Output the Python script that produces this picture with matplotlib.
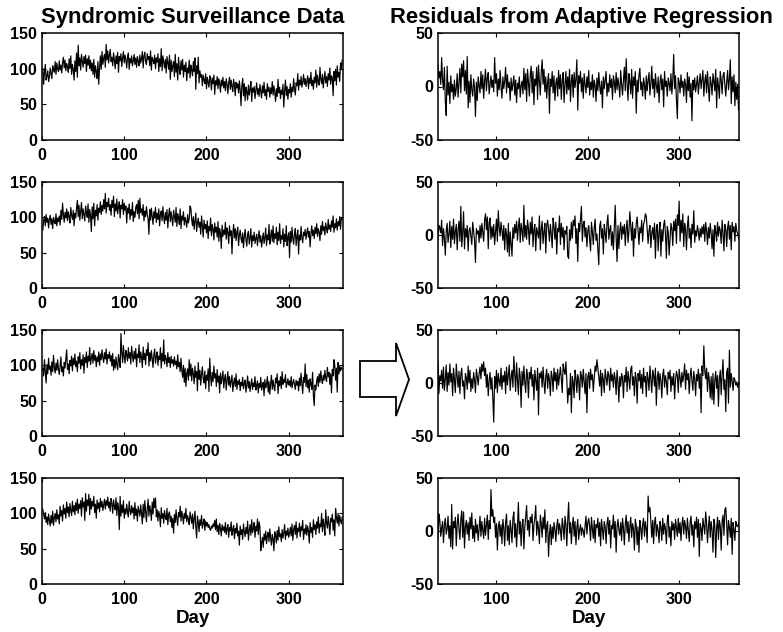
import numpy as np
import matplotlib
matplotlib.use("Agg")
import matplotlib.pyplot as plt
from matplotlib.patches import Polygon

plt.rcParams['font.family'] = ['Liberation Sans', 'DejaVu Sans']
plt.rcParams['font.weight'] = 'bold'
plt.rcParams['axes.unicode_minus'] = False

# ---------------- data ----------------
left_start_day = 1
resid_start_day = 36

data1 = [
    100, 78, 95, 106, 84, 90, 97, 82, 88, 101, 93, 86, 104, 99, 95, 110, 92, 108, 100, 96,
    111, 98, 105, 94, 109, 116, 101, 112, 97, 107, 103, 95, 114, 100, 118, 92, 106, 99, 84, 111,
    96, 122, 88, 133, 104, 115, 98, 120, 110, 102, 117, 107, 119, 96, 114, 105, 118, 100, 112, 97,
    108, 92, 113, 88, 104, 96, 86, 110, 78, 101, 118, 99, 124, 106, 115, 120, 102, 134, 112, 125,
    108, 119, 127, 110, 116, 104, 122, 113, 100, 118, 107, 123, 95, 117, 111, 121, 103, 115, 124, 108,
    119, 112, 101, 116, 122, 99, 114, 108, 118, 104, 111, 120, 106, 115, 102, 117, 110, 104, 119, 108,
    114, 124, 101, 118, 123, 110, 106, 121, 113, 117, 104, 125, 98, 116, 112, 107, 119, 100, 115, 109,
    121, 96, 114, 103, 128, 97, 118, 110, 101, 113, 94, 117, 108, 99, 119, 85, 112, 96, 104, 110,
    89, 120, 95, 107, 84, 116, 100, 92, 111, 98, 113, 88, 105, 96, 109, 83, 101, 94, 112, 87,
    105, 98, 90, 110, 96, 115, 71, 104, 93, 116, 80, 97, 88, 92, 76, 91, 84, 79, 93, 72,
    88, 81, 74, 90, 85, 70, 87, 79, 91, 64, 83, 77, 89, 72, 86, 80, 67, 84, 76, 88,
    73, 82, 69, 86, 78, 65, 80, 88, 71, 84, 75, 68, 85, 77, 62, 81, 73, 79, 66, 83,
    70, 48, 76, 86, 62, 79, 55, 74, 68, 56, 77, 63, 71, 82, 54, 73, 67, 75, 58, 70,
    80, 64, 72, 61, 78, 69, 59, 76, 66, 81, 62, 71, 57, 79, 68, 74, 60, 73, 65, 82,
    63, 76, 67, 54, 72, 61, 85, 66, 74, 58, 70, 64, 78, 46, 69, 84, 62, 75, 57, 71,
    66, 79, 60, 74, 68, 86, 72, 63, 80, 76, 93, 70, 84, 77, 89, 74, 81, 92, 78, 86,
    75, 83, 90, 72, 87, 79, 95, 76, 84, 71, 88, 80, 98, 74, 91, 82, 77, 102, 85, 79,
    92, 73, 86, 96, 80, 89, 75, 93, 84, 101, 78, 90, 87, 62, 96, 83, 99, 77, 104, 88,
    95, 82, 108, 100, 112,
]

data2 = [
    82, 96, 101, 88, 104, 93, 99, 85, 97, 103, 90, 98, 84, 100, 95, 91, 105, 88, 99, 94,
    102, 89, 110, 97, 120, 104, 93, 107, 99, 112, 95, 108, 101, 92, 114, 103, 97, 110, 88, 106,
    99, 113, 124, 101, 117, 96, 109, 121, 98, 112, 104, 95, 116, 107, 100, 119, 93, 111, 103, 80,
    115, 98, 120, 88, 110, 102, 118, 96, 113, 107, 122, 104, 117, 109, 125, 112, 134, 106, 121, 115,
    127, 110, 118, 103, 124, 114, 130, 101, 119, 109, 126, 105, 115, 122, 99, 117, 112, 125, 104, 120,
    110, 116, 92, 113, 106, 119, 97, 111, 103, 121, 94, 108, 100, 114, 118, 105, 124, 98, 127, 107,
    112, 103, 118, 95, 109, 101, 115, 104, 98, 76, 111, 96, 113, 102, 90, 108, 99, 114, 93, 106,
    97, 112, 88, 104, 109, 95, 115, 100, 91, 107, 96, 111, 85, 103, 113, 94, 108, 98, 88, 110,
    101, 93, 114, 87, 105, 99, 90, 112, 84, 102, 96, 108, 89, 100, 94, 86, 104, 92, 98, 116,
    113, 97, 88, 101, 83, 95, 106, 80, 92, 99, 86, 93, 76, 102, 88, 72, 96, 84, 90, 78,
    95, 70, 87, 81, 99, 74, 90, 83, 68, 92, 79, 86, 72, 94, 66, 84, 78, 56, 89, 73,
    82, 76, 93, 69, 85, 79, 63, 88, 74, 81, 48, 77, 90, 71, 84, 67, 79, 86, 60, 75,
    82, 70, 64, 78, 57, 73, 83, 68, 59, 76, 80, 62, 71, 84, 58, 74, 67, 79, 63, 70,
    76, 60, 72, 81, 65, 74, 58, 69, 78, 63, 71, 85, 60, 75, 68, 90, 62, 73, 82, 66,
    88, 64, 77, 70, 86, 61, 79, 67, 91, 63, 74, 69, 84, 58, 76, 66, 88, 60, 72, 78,
    43, 80, 65, 86, 70, 62, 77, 84, 60, 73, 82, 48, 75, 68, 87, 71, 64, 79, 74, 83,
    69, 78, 85, 72, 80, 58, 76, 88, 74, 82, 70, 86, 77, 91, 73, 84, 79, 67, 88, 76,
    94, 81, 87, 75, 92, 84, 78, 97, 83, 89, 80, 95, 86, 102, 79, 91, 85, 98, 82, 94,
    88, 101, 83, 99, 97,
]

data3 = [
    96, 85, 108, 92, 75, 101, 88, 110, 94, 99, 86, 105, 91, 114, 97, 89, 103, 93, 108, 95,
    87, 100, 112, 91, 98, 85, 104, 96, 109, 122, 94, 102, 88, 107, 99, 113, 92, 110, 101, 116,
    98, 106, 91, 112, 103, 118, 95, 108, 100, 115, 89, 111, 104, 119, 97, 113, 106, 125, 101, 110,
    117, 103, 121, 107, 114, 98, 112, 105, 119, 100, 116, 108, 122, 111, 104, 118, 109, 123, 102, 115,
    110, 119, 106, 114, 99, 117, 93, 108, 96, 112, 101, 94, 115, 107, 97, 145, 118, 104, 128, 112,
    103, 121, 115, 106, 125, 110, 118, 102, 127, 113, 105, 120, 109, 124, 98, 116, 111, 129, 104, 119,
    112, 97, 126, 108, 117, 101, 122, 114, 132, 99, 118, 106, 121, 110, 97, 115, 123, 103, 112, 119,
    100, 113, 108, 125, 96, 117, 106, 136, 102, 114, 109, 98, 118, 104, 111, 97, 113, 103, 108, 99,
    112, 101, 106, 95, 115, 98, 104, 91, 110, 93, 83, 100, 76, 96, 70, 89, 95, 79, 108, 85,
    102, 78, 96, 88, 74, 99, 83, 91, 64, 104, 80, 93, 72, 87, 98, 81, 75, 92, 67, 86,
    79, 95, 63, 110, 84, 71, 90, 77, 99, 82, 88, 70, 94, 76, 85, 61, 89, 74, 83, 92,
    68, 81, 87, 65, 79, 91, 72, 84, 69, 77, 86, 63, 75, 82, 70, 88, 66, 78, 73, 80,
    64, 76, 71, 83, 67, 74, 79, 62, 72, 85, 68, 77, 63, 73, 81, 66, 75, 70, 84, 65,
    72, 78, 61, 74, 69, 83, 65, 71, 76, 57, 80, 68, 73, 84, 62, 77, 59, 74, 86, 66,
    79, 70, 64, 82, 75, 88, 60, 78, 71, 84, 67, 91, 73, 80, 76, 87, 69, 74, 81, 72,
    78, 70, 84, 68, 75, 80, 73, 66, 79, 72, 77, 64, 82, 71, 89, 74, 60, 83, 76, 102,
    70, 87, 68, 79, 62, 81, 74, 66, 90, 57, 43, 72, 65, 78, 84, 70, 88, 76, 92, 80,
    74, 86, 79, 93, 82, 77, 97, 84, 90, 73, 88, 61, 94, 85, 108, 100, 79, 96, 62, 104,
    88, 99, 92, 97, 95,
]

data4 = [
    106, 98, 92, 101, 87, 95, 84, 99, 90, 82, 97, 86, 103, 83, 94, 100, 88, 105, 92, 98,
    85, 110, 96, 104, 89, 112, 99, 107, 93, 116, 101, 109, 95, 114, 104, 97, 117, 102, 111, 98,
    115, 104, 120, 100, 113, 107, 118, 96, 122, 109, 116, 90, 128, 103, 119, 111, 127, 98, 121, 106,
    117, 110, 124, 101, 113, 93, 119, 107, 115, 102, 121, 109, 117, 104, 112, 120, 106, 118, 111, 123,
    108, 116, 103, 121, 114, 100, 119, 110, 105, 122, 97, 115, 108, 77, 124, 96, 112, 101, 118, 93,
    106, 99, 113, 102, 95, 117, 104, 98, 111, 101, 108, 92, 115, 97, 106, 89, 110, 103, 96, 112,
    100, 85, 113, 94, 118, 102, 88, 107, 120, 96, 111, 104, 90, 116, 99, 121, 108, 122, 95, 105,
    89, 103, 97, 81, 108, 93, 100, 86, 104, 95, 91, 107, 84, 99, 102, 88, 96, 80, 93, 72,
    98, 87, 105, 92, 83, 101, 95, 110, 89, 103, 96, 85, 100, 93, 107, 88, 97, 91, 84, 102,
    94, 86, 99, 78, 92, 103, 81, 65, 96, 88, 74, 91, 83, 97, 79, 86, 92, 76, 89, 82,
    87, 80, 84, 78, 76, 82, 79, 85, 81, 90, 77, 92, 74, 83, 70, 86, 79, 68, 84, 76,
    81, 73, 87, 70, 78, 84, 66, 80, 75, 88, 69, 77, 83, 64, 79, 72, 86, 68, 75, 55,
    82, 70, 77, 63, 85, 74, 67, 80, 71, 89, 62, 76, 84, 69, 91, 73, 78, 87, 66, 82,
    75, 92, 70, 88, 80, 47, 58, 66, 52, 71, 62, 75, 57, 68, 73, 60, 78, 65, 55, 70,
    64, 47, 74, 69, 58, 76, 62, 81, 67, 71, 60, 77, 65, 72, 84, 63, 75, 69, 79, 66,
    72, 80, 68, 85, 62, 77, 83, 70, 88, 65, 79, 74, 86, 67, 81, 76, 90, 63, 78, 71,
    84, 69, 82, 75, 58, 87, 73, 80, 66, 91, 77, 84, 70, 88, 79, 95, 72, 85, 81, 100,
    74, 92, 83, 69, 105, 87, 79, 96, 84, 70, 93, 88, 99, 76, 91, 68, 107, 94, 86, 100,
    82, 97, 90, 85, 95,
]

resid1 = [
    20, 8, 14, 2, 27, 6, -3, 18, -14, -27, 19, -8, 4, -16, 10, -5, 2, -12, 6, -9,
    -2, 12, -10, 3, 17, -6, 21, 9, 24, -4, 15, -7, 28, -20, 5, -15, 11, -3, -9, 7,
    -1, -28, 4, -13, 9, 1, -6, 14, -2, 11, -11, 5, 16, -4, 8, 13, -7, 2, 10, -1,
    6, -5, 27, 3, 12, -9, 7, -3, 15, 0, -11, 9, -2, 5, 18, -6, 11, -1, 4, -13,
    8, -4, 2, 10, -8, 6, -15, 3, -2, 9, -10, 1, 5, -7, 17, -3, 12, -14, 16, 4,
    -9, 11, 19, -6, 14, -17, 7, 1, 18, -12, 20, 5, -8, 13, 25, 2, 16, -5, 9, -11,
    4, 12, -25, 7, 0, 14, -6, 10, -13, 3, 8, -9, 15, -2, 11, -12, 6, 13, -15, 2,
    14, -7, 9, -3, 16, -14, 5, 11, -10, 13, -1, 7, 25, -22, 10, 3, 14, -5, 8, -11,
    12, 2, -6, 9, -1, 15, -8, 4, -3, 11, -10, 6, 1, -14, 8, -4, 13, 0, -7, 5,
    -20, 9, -2, 6, 14, -9, 3, -5, 11, -1, 7, -12, 10, 4, -6, 13, -3, 8, 1, -10,
    15, 2, -8, 6, 18, -4, 26, 3, -13, 12, 5, -7, 16, -11, 9, 1, 14, -25, 6, -5,
    11, 17, -3, 4, -9, 8, 2, -12, 10, -4, 6, 13, -8, 3, 19, -2, 7, -10, 12, 1,
    -6, 9, -15, 4, 11, -3, 7, -19, 14, 0, 5, -9, 8, 3, -4, 12, -7, 6, 30, -2,
    10, -12, -30, 8, 4, -6, 11, -1, 5, -9, 7, 2, -15, 13, -4, 9, -10, 3, -32, 6,
    -3, 8, -5, 2, 10, -7, 4, 12, -2, 7, 15, -9, 5, 11, -6, 14, -1, -14, 9, 3,
    -8, 12, 5, -4, 16, -20, 8, 1, -11, 14, 6, -7, 10, 13, 2, -9, 4, 15, -3, 7,
    25, -16, 9, -5, 11, -18, 4, -12, 2, -22,
]

resid2 = [
    -5, 9, 7, 2, 14, -10, 6, -3, -19, 4, 11, -7, 1, 13, -12, 8, -4, 15, -8, 3,
    10, -14, 5, 13, -6, 27, -11, 2, 22, -13, 6, -2, 9, -15, 4, 7, -1, -9, 12, 3,
    -5, -26, 6, 1, 4, -7, 9, -3, 11, 2, -6, 14, 20, 5, 17, -13, 12, 16, -4, 8,
    -2, 10, -9, 3, 15, -6, 23, 7, -1, 12, 4, -5, 9, -14, 6, 1, -16, 11, -20, 3,
    -8, -20, 7, -3, 10, 2, 13, -5, 8, 16, -7, 11, 4, -6, 28, -2, 9, -4, 14, 6,
    -9, 12, 1, 17, -11, 5, 10, -15, 7, 2, -3, 18, -14, 6, 13, -8, 3, 11, -17, 9,
    14, 5, -6, 10, 1, -12, 16, 8, -4, 12, -18, 6, 3, 18, -9, 11, -2, 7, -14, 4,
    1, 8, -20, -22, 5, -5, 12, -3, 14, 9, 18, -8, 6, -25, 11, 3, 15, 27, -6, 10,
    13, -2, 7, -11, 4, 9, -4, -15, 12, 3, -9, 6, 15, -5, 1, -13, -28, 8, 13, -3,
    6, -18, 10, 2, -7, 11, 19, -4, 5, 9, -10, 3, -14, 7, 28, -2, -25, 9, -13, 4,
    12, -4, 8, 1, 10, -10, 6, 14, -7, 3, 22, 9, -5, 12, -20, 6, -3, 11, 17, 4,
    -9, 7, 2, 14, -6, 10, 13, 20, 18, 5, -8, 4, 9, -12, 2, 7, -4, 11, -22, 6,
    10, -15, 3, 12, -20, 5, -6, 9, 14, 1, -22, 8, 3, -19, -4, 11, 6, -10, 13, 4,
    15, -8, 19, 9, 32, -6, 14, 2, 20, -11, 11, 5, -14, 8, 18, -3, 6, -12, 10, 1,
    23, -7, 4, -1, 9, 3, -5, 6, -2, 8, 1, 10, -6, 12, 4, -9, 7, -3, 11, 2,
    -13, 5, -20, 9, 3, -6, 12, -1, 8, 4, -8, 14, 2, -15, 10, 6, -11, 7, 13, -4,
    9, -14, 12, 3, 8, -6, 11, 4, 1, -3,
]

resid3 = [
    20, -10, 7, 2, 12, -5, 15, -7, 4, 17, -8, 10, -2, 18, 1, 9, -12, 14, 3, -9,
    18, 6, -4, 11, -10, 8, 14, -3, 2, -15, 9, 5, -6, 16, 0, 12, -8, 4, -5, 10,
    3, -9, 13, 6, -2, 9, 15, 4, 18, 11, 20, 7, 14, -4, 8, -12, 2, 10, -6, 5,
    -14, -37, 6, -5, 12, -9, 9, 2, -3, 14, -6, 7, 1, 11, -10, 15, -2, 8, 17, -7,
    5, 12, -4, 25, 9, -8, 19, 3, -11, 14, 6, -23, 11, -2, 16, 1, -9, 13, 7, -14,
    10, 4, 15, -3, 8, -16, 12, 2, -7, 14, -30, 9, 5, 11, -4, 15, 1, -10, 7, 13,
    -5, 9, 3, -12, 11, 6, -8, 14, 2, 10, -6, 13, -2, 7, 15, 4, -9, 18, 12, 8,
    20, 3, -19, -5, -11, 9, -28, 6, 1, -14, 12, 5, -9, 8, 3, -16, 11, 7, -4, 13,
    2, -10, 9, -28, 6, 10, -5, 13, 3, 8, -8, 4, 16, 11, 22, 14, 6, -3, 12, -12,
    9, 3, -9, 13, 5, -2, 11, 7, -7, 14, 2, 8, -4, 10, 4, -11, 12, 1, -18, 6,
    -3, 9, 5, -14, 7, 1, 15, -8, 11, 3, -6, 13, 16, -2, 6, -12, 10, 4, -19, 9,
    2, 12, -5, 8, -10, 14, 1, 6, -13, 10, 4, -7, 16, 3, -9, 12, 7, -3, 14, -21,
    5, 11, -6, 9, 2, -14, 8, 13, -4, 7, 1, -11, 10, 4, 12, -8, 6, -2, 9, -15,
    3, 11, 7, -9, 13, 5, -4, 10, 1, 8, 18, -6, 12, 3, 9, -10, 6, 14, 2, -7,
    11, 4, -12, 8, 2, 13, -5, 9, -28, 16, 7, 35, 12, 4, 14, -8, 10, 3, -14, 6,
    -16, 9, -20, 2, 11, -5, 7, -22, 4, 12, -11, 8, 22, -6, 3, -27, 10, 14, -19, 31,
    -4, 9, 2, -7, 5, 3, -2, 1, -4, 0,
]

resid4 = [
    -8, 16, 10, -5, 3, 9, -11, 6, 12, -3, 2, 14, -7, 5, -15, 25, -17, 9, 3, 13,
    -14, 7, 16, 1, -8, 11, 19, -6, 18, -16, 4, 10, -3, 8, -9, 13, 2, 17, -7, 5,
    -10, 11, -2, 6, -9, 3, 14, -5, 9, 1, -7, 12, -4, 6, 15, -8, 10, 2, 39, 14,
    20, 8, 13, -6, 7, -18, 4, 9, -5, 6, -12, 11, 3, -14, 8, 16, -9, 5, -13, 10,
    2, -11, 12, 18, -6, 7, -15, 4, 27, -3, 9, -14, 6, 11, -17, 3, 14, 24, 1, 10,
    -5, 13, 8, 16, -9, 6, 12, 24, -4, 9, 3, -12, 15, 7, -6, 13, 2, 20, -11, 5,
    9, -24, -3, 6, -13, 4, -7, 8, 2, -10, 5, 11, -3, 7, 1, -9, 12, 4, -8, 14,
    6, -14, 10, 27, -2, 8, -12, 5, 13, -5, 9, -13, 3, 11, -8, 1, 6, -4, 3, 0,
    -6, 5, 14, -3, 8, 12, 4, -9, 13, 2, -7, 10, -11, 6, 3, 12, -5, 8, -14, 11,
    1, -8, 9, 4, -12, 7, 13, -3, 10, -16, 5, 2, 15, -6, 9, -20, 4, 11, 1, -4,
    8, -9, 12, 3, -13, 6, 15, -2, 9, -10, 4, 13, -6, 7, 2, -18, 11, 5, -13, 4,
    -20, 10, 3, -8, 6, 12, -5, 9, 2, -11, 33, 18, 22, 9, -6, 10, -12, 8, 13, -5,
    6, 1, -11, 9, 4, -9, 12, -3, 7, 2, -12, 10, 15, -6, 4, -14, 9, 1, 7, -8,
    11, 3, -5, 12, -2, 8, -9, 6, 13, -3, 10, 4, -7, 12, 1, -10, 8, 14, -4, 6,
    -15, 9, 2, 13, -6, 11, -24, 7, 3, -9, 12, 5, -3, 18, 8, -11, 4, 14, -6, 9,
    1, -20, 11, 6, -25, 2, 13, -8, 10, 5, -18, 9, 15, -4, 20, 22, 7, -13, 10, 3,
    -6, 12, -22, 8, 1, -9, 9, 5, 4, 7,
]

left_series = [data1, data2, data3, data4]
right_series = [resid1, resid2, resid3, resid4]

left_yticks = [0, 50, 100, 150]
left_xticks = [0, 100, 200, 300]
right_yticks = [-50, 0, 50]
right_xticks = [100, 200, 300]

left_title = "Syndromic Surveillance Data"
right_title = "Residuals from Adaptive Regression"
xlabel_text = "Day"

# ---------------- figure ----------------
W, H = 783, 632
fig = plt.figure(figsize=(W / 100, H / 100), dpi=100)

def px_axes(x0, y0, x1, y1):
    return fig.add_axes([x0 / W, 1 - y1 / H, (x1 - x0) / W, (y1 - y0) / H])

rows_px = [(33, 140), (182, 288), (330, 436), (478, 584)]
lx0, lx1 = 42, 343
rx0, rx1 = 438, 739

tick_fs = 11.5

def style(ax):
    ax.tick_params(direction='in', length=3, width=0.8, top=True, right=True,
                   labelsize=tick_fs)
    ax.tick_params(axis='x', pad=6)
    ax.tick_params(axis='y', pad=3.5)
    for lab in ax.get_xticklabels() + ax.get_yticklabels():
        lab.set_fontweight('bold')
    for s in ax.spines.values():
        s.set_linewidth(1.1)
        s.set_color('black')

for i, (y0, y1) in enumerate(rows_px):
    axl = px_axes(lx0, y0, lx1, y1)
    yl = left_series[i]
    xl = np.arange(left_start_day, left_start_day + len(yl))
    axl.plot(xl, yl, color='black', lw=0.85)
    axl.set_xlim(0, 366)
    axl.set_ylim(0, 150)
    axl.set_xticks(left_xticks)
    axl.set_yticks(left_yticks)
    style(axl)

    axr = px_axes(rx0, y0, rx1, y1)
    yr = right_series[i]
    xr = np.arange(resid_start_day, resid_start_day + len(yr))
    axr.plot(xr, yr, color='black', lw=0.85)
    axr.set_xlim(36, 365.5)
    axr.set_ylim(-50, 50)
    axr.set_xticks(right_xticks)
    axr.set_yticks(right_yticks)
    style(axr)

    if i == 0:
        axl.set_title(left_title, fontsize=15.8, fontweight='bold', pad=7)
        axr.set_title(right_title, fontsize=15.8, fontweight='bold', pad=7,
                      x=0.475)
    if i == 3:
        axl.set_xlabel(xlabel_text, fontsize=13.5, fontweight='bold', labelpad=2)
        axr.set_xlabel(xlabel_text, fontsize=13.5, fontweight='bold', labelpad=2)

# block arrow between the columns (decoration)
arrow_px = [(360, 361), (396, 361), (396, 343), (409, 379.5),
            (396, 416), (396, 397), (360, 397)]
arrow = Polygon([(x / W, 1 - y / H) for x, y in arrow_px], closed=True,
                transform=fig.transFigure, facecolor='white', edgecolor='black',
                linewidth=1.3)
fig.patches.append(arrow)

fig.savefig("out.png", dpi=100)
